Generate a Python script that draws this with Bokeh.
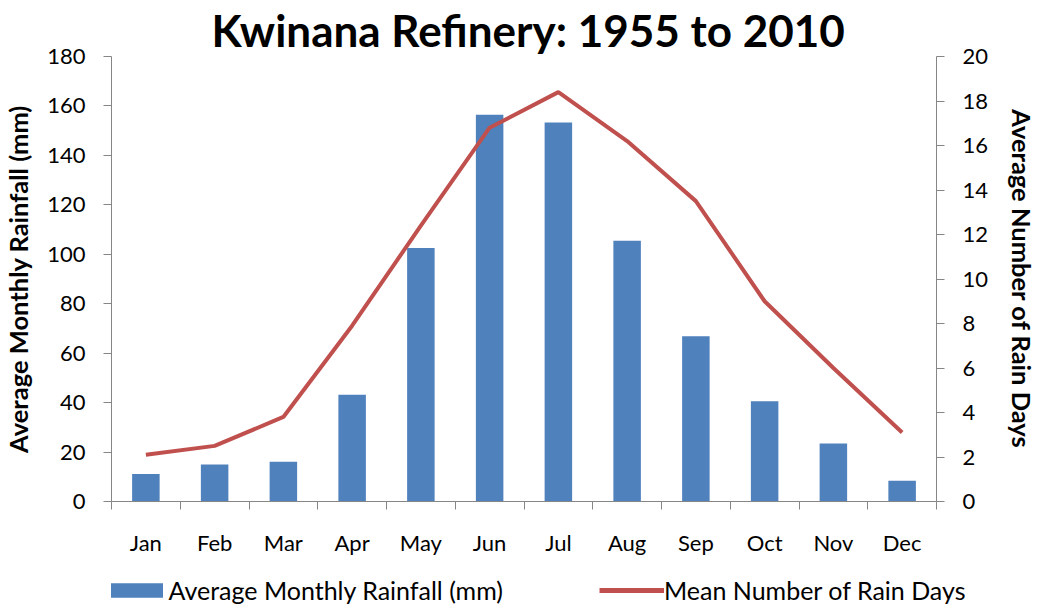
import numpy as np
from bokeh.plotting import figure
from bokeh.layouts import column
from bokeh.models import (Range1d, LinearAxis, FixedTicker, Legend, LegendItem)
from bokeh.embed import file_html
from bokeh.resources import INLINE

months = ["Jan", "Feb", "Mar", "Apr", "May", "Jun", "Jul", "Aug", "Sep", "Oct", "Nov", "Dec"]
rainfall_mm = [11.1, 15.0, 16.1, 43.2, 102.5, 156.4, 153.3, 105.5, 66.8, 40.6, 23.5, 8.4]
rain_days = [2.1, 2.5, 3.8, 7.9, 12.4, 16.8, 18.4, 16.2, 13.5, 9.0, 6.0, 3.1]
left_ticks = list(range(0, 181, 20))
right_ticks = list(range(0, 21, 2))

FONT = "Lato"
GRAY = "#868686"
BLUE = "#4F81BD"
RED = "#C0504D"

xpos = np.arange(len(months)) + 0.5

p = figure(width=1041, height=565, output_backend="svg", toolbar_location=None,
           x_range=Range1d(0, len(months)), y_range=Range1d(0, 180),
           min_border_left=110, min_border_right=105, min_border_top=56, min_border_bottom=64,
           x_axis_type=None, y_axis_type=None)
p.outline_line_color = None
p.background_fill_color = "white"
p.border_fill_color = "white"

p.title.text = "Kwinana Refinery: 1955 to 2010"
p.title.text_font = FONT
p.title.text_font_size = "44px"
p.title.text_font_style = "bold"
p.title.text_color = "black"
p.title.align = "left"
p.title.offset = 100
p.title.standoff = 1

# x axis: labels at centres, minor ticks at category boundaries
xax = LinearAxis(ticker=FixedTicker(ticks=list(xpos), minor_ticks=list(range(0, len(months) + 1))))
xax.major_label_overrides = {float(x): m for x, m in zip(xpos, months)}
xax.major_tick_line_color = None
xax.major_tick_out = 0
xax.major_tick_in = 0
xax.minor_tick_line_color = GRAY
xax.minor_tick_out = 8
xax.minor_tick_in = 0
xax.axis_line_color = GRAY
xax.major_label_text_font = FONT
xax.major_label_text_font_size = "22px"
xax.major_label_text_color = "black"
xax.major_label_standoff = 19
p.add_layout(xax, "below")

# left axis
lax = LinearAxis(ticker=FixedTicker(ticks=left_ticks, minor_ticks=[]))
lax.axis_label = "Average Monthly Rainfall (mm)"
lax.axis_line_color = GRAY
lax.major_tick_line_color = GRAY
lax.major_tick_out = 8
lax.major_tick_in = 0
lax.major_label_text_font = FONT
lax.major_label_text_font_size = "22px"
lax.major_label_text_color = "black"
lax.major_label_standoff = 18
lax.axis_label_text_font = FONT
lax.axis_label_text_font_size = "25.5px"
lax.axis_label_text_font_style = "bold"
lax.axis_label_text_color = "black"
lax.axis_label_standoff = 11
p.add_layout(lax, "left")

# right axis
p.extra_y_ranges = {"days": Range1d(0, 20)}
rax = LinearAxis(y_range_name="days", ticker=FixedTicker(ticks=right_ticks, minor_ticks=[]))
rax.axis_label = "Average Number of Rain Days"
rax.axis_line_color = GRAY
rax.major_tick_line_color = GRAY
rax.major_tick_out = 8
rax.major_tick_in = 0
rax.major_label_text_font = FONT
rax.major_label_text_font_size = "22px"
rax.major_label_text_color = "black"
rax.major_label_standoff = 18
rax.axis_label_text_font = FONT
rax.axis_label_text_font_size = "25.5px"
rax.axis_label_text_font_style = "bold"
rax.axis_label_text_color = "black"
rax.axis_label_standoff = 16
p.add_layout(rax, "right")

p.ygrid.ticker = FixedTicker(ticks=left_ticks, minor_ticks=[])
p.ygrid.grid_line_color = GRAY
p.ygrid.grid_line_width = 1
p.xgrid.grid_line_color = None

p.vbar(x=xpos, top=rainfall_mm, width=0.4, fill_color=BLUE, line_color=None)
p.line(x=xpos, y=rain_days, y_range_name="days", line_color=RED, line_width=4)

# legend strip below the chart (its own renderers are kept out of view)
pl = figure(width=1041, height=40, output_backend="svg", toolbar_location=None, title=None,
            x_range=Range1d(0, len(months)), y_range=Range1d(1000, 1001),
            min_border_left=0, min_border_right=0, min_border_top=0, min_border_bottom=0,
            x_axis_type=None, y_axis_type=None)
pl.frame_align = False
pl.outline_line_color = None
pl.xgrid.visible = False
pl.ygrid.visible = False
r_bar = pl.vbar(x=xpos, top=rainfall_mm, width=0.4, fill_color=BLUE, line_color=None)
r_line = pl.line(x=xpos, y=rain_days, line_color=RED, line_width=5)
legend = Legend(items=[LegendItem(label="Average Monthly Rainfall (mm)", renderers=[r_bar]),
                       LegendItem(label="Mean Number of Rain Days", renderers=[r_line])],
                location=(103.5, 0), orientation="horizontal", spacing=96,
                glyph_width=65, glyph_height=18, label_standoff=0,
                label_text_font=FONT, label_text_font_size="25px", label_text_color="black",
                padding=0, margin=0, border_line_color=None, background_fill_alpha=0)
pl.add_layout(legend)

open("out.html", "w").write(file_html(column(p, pl, spacing=0), INLINE))
